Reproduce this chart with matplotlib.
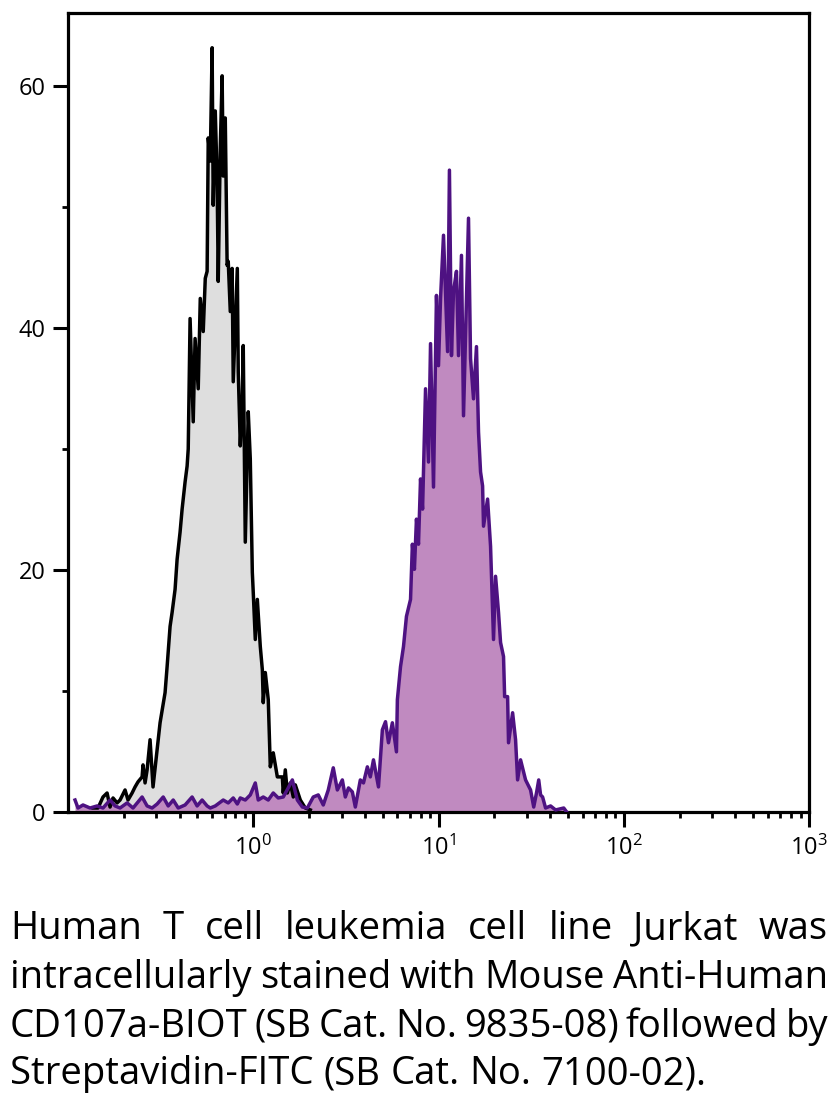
import numpy as np
import matplotlib
matplotlib.use("Agg")
import matplotlib.pyplot as plt
from matplotlib.ticker import FixedLocator, FixedFormatter, NullFormatter

plt.rcParams['font.family'] = ['Open Sans', 'DejaVu Sans']
plt.rcParams['mathtext.fontset'] = 'custom'
plt.rcParams['mathtext.rm'] = 'Open Sans'
plt.rcParams['mathtext.it'] = 'Open Sans'

# isotype / unstained control (grey), log10 of fluorescence intensity and counts
black_log = [-0.865, -0.838, -0.811, -0.789, -0.773, -0.757, -0.735, -0.719, -0.692, -0.676,
             -0.654, -0.638, -0.622, -0.600, -0.595, -0.584, -0.573, -0.557, -0.541, -0.519,
             -0.503, -0.476, -0.465, -0.449, -0.438, -0.422, -0.411, -0.395, -0.384, -0.368,
             -0.357, -0.351, -0.341, -0.324, -0.314, -0.297, -0.286, -0.270, -0.259, -0.249,
             -0.243, -0.232, -0.222, -0.216, -0.205, -0.195, -0.189, -0.178, -0.168, -0.162,
             -0.151, -0.141, -0.135, -0.124, -0.114, -0.108, -0.086, -0.081, -0.070, -0.059,
             -0.054, -0.043, -0.027, -0.016, -0.005, 0.000, 0.011, 0.022, 0.038, 0.049,
             0.054, 0.065, 0.081, 0.092, 0.108, 0.130, 0.157, 0.162, 0.173, 0.184,
             0.200, 0.216, 0.227, 0.254, 0.281, 0.308]
black_cnt = [0.33, 0.33, 1.24, 1.57, 0.41, 1.16, 0.75, 0.99, 1.82, 0.99,
             1.57, 2.07, 2.49, 2.90, 3.89, 2.40, 3.48, 5.97, 2.07, 5.14,
             7.37, 9.86, 12.01, 15.33, 16.49, 18.39, 20.88, 23.12, 25.02, 27.26,
             28.58, 29.99, 40.76, 32.23, 39.11, 34.96, 42.42, 39.69, 44.08, 44.66,
             55.68, 53.77, 63.13, 50.12, 57.91, 52.20, 43.83, 54.85, 60.81, 52.53,
             57.33, 45.16, 45.48, 41.34, 44.90, 35.54, 44.90, 36.37, 30.24, 34.13,
             38.53, 22.29, 33.06, 29.16, 19.80, 18.14, 14.25, 17.56, 13.67, 11.76,
             9.03, 11.52, 9.28, 3.73, 4.89, 2.90, 2.90, 1.57, 3.48, 1.57,
             2.40, 1.24, 2.24, 0.99, 0.33, 0.17]

# CD107a stained (purple)
purple_log = [-0.962, -0.946, -0.919, -0.881, -0.843, -0.811, -0.773, -0.746, -0.719, -0.681,
              -0.649, -0.600, -0.573, -0.546, -0.519, -0.486, -0.459, -0.432, -0.405, -0.368,
              -0.330, -0.303, -0.276, -0.249, -0.232, -0.205, -0.162, -0.135, -0.108, -0.086,
              -0.070, -0.043, -0.016, 0.011, 0.027, 0.054, 0.081, 0.108, 0.135, 0.162,
              0.189, 0.211, 0.238, 0.265, 0.292, 0.324, 0.351, 0.378, 0.405, 0.432,
              0.454, 0.481, 0.497, 0.514, 0.535, 0.551, 0.578, 0.595, 0.616, 0.632,
              0.649, 0.676, 0.697, 0.714, 0.730, 0.751, 0.773, 0.778, 0.795, 0.811,
              0.827, 0.849, 0.859, 0.870, 0.881, 0.892, 0.903, 0.914, 0.930, 0.946,
              0.957, 0.973, 0.989, 1.000, 1.011, 1.027, 1.049, 1.059, 1.070, 1.081,
              1.097, 1.108, 1.124, 1.135, 1.146, 1.162, 1.173, 1.189, 1.205, 1.216,
              1.227, 1.238, 1.243, 1.265, 1.281, 1.297, 1.308, 1.324, 1.335, 1.351,
              1.357, 1.373, 1.378, 1.400, 1.416, 1.427, 1.443, 1.470, 1.497, 1.514,
              1.530, 1.541, 1.551, 1.562, 1.578, 1.605, 1.632, 1.676, 1.692]
purple_cnt = [0.99, 0.33, 0.58, 0.33, 0.50, 0.33, 0.99, 0.50, 0.33, 0.75,
              0.33, 1.24, 0.50, 0.33, 0.66, 1.24, 0.50, 0.99, 0.33, 0.58,
              1.24, 0.50, 0.99, 0.50, 0.33, 0.50, 0.99, 0.75, 1.16, 0.66,
              1.16, 0.99, 1.41, 2.40, 0.99, 1.24, 0.99, 1.57, 1.16, 1.24,
              1.99, 2.65, 0.99, 0.41, 0.33, 1.24, 1.41, 0.58, 1.82, 3.65,
              1.82, 2.65, 1.24, 1.99, 1.66, 0.41, 2.65, 2.40, 3.73, 2.90,
              4.31, 2.07, 6.79, 7.46, 5.72, 7.37, 4.97, 9.28, 12.01, 13.67,
              16.16, 17.56, 22.12, 20.05, 24.19, 22.12, 27.51, 25.02, 34.96, 28.91,
              38.69, 26.84, 42.67, 36.87, 42.42, 47.64, 38.03, 53.02, 37.70, 43.00,
              44.66, 37.70, 45.98, 32.73, 39.35, 49.05, 37.45, 34.13, 38.44, 31.40,
              28.09, 26.93, 23.61, 25.85, 21.95, 14.25, 19.47, 16.49, 14.00, 12.84,
              9.53, 9.53, 5.72, 8.20, 5.97, 2.65, 4.31, 2.65, 1.82, 0.41,
              1.66, 2.65, 1.41, 1.24, 0.33, 0.50, 0.17, 0.33, 0.00]

y_ticks = [0, 20, 40, 60]
y_minor = [10, 30, 50]
x_ticks = [1, 10, 100, 1000]
x_ticklabels = [r'$\mathregular{10^{0}}$', r'$\mathregular{10^{1}}$',
                r'$\mathregular{10^{2}}$', r'$\mathregular{10^{3}}$']

caption_lines = ["Human T cell leukemia cell line Jurkat was",
                 "intracellularly stained with Mouse Anti-Human",
                 "CD107a-BIOT (SB Cat. No. 9835-08) followed by",
                 "Streptavidin-FITC (SB Cat. No. 7100-02)."]

W, H = 840, 1099
fig = plt.figure(figsize=(W / 100, H / 100), dpi=100)
ax = fig.add_axes([68 / W, 1 - 812 / H, (809 - 68) / W, (812 - 13) / H])

bx = 10 ** np.array(black_log)
px = 10 ** np.array(purple_log)

ax.fill_between(bx, black_cnt, 0, color='#dedede', lw=0, zorder=1)
ax.fill_between(px, purple_cnt, 0, color='#c08ac0', lw=0, zorder=2)
ax.plot(bx, black_cnt, color='black', lw=2.5, zorder=3)
ax.plot(px, purple_cnt, color='#4e1282', lw=2.5, zorder=4)

ax.set_xscale('log')
ax.set_xlim(0.1, 1000)
ax.set_ylim(0, 66)

ax.xaxis.set_major_locator(FixedLocator(x_ticks))
ax.xaxis.set_major_formatter(FixedFormatter(x_ticklabels))
minors = [m * 10.0 ** e for e in range(-1, 3) for m in range(2, 10)]
ax.xaxis.set_minor_locator(FixedLocator(minors))
ax.xaxis.set_minor_formatter(NullFormatter())
ax.yaxis.set_major_locator(FixedLocator(y_ticks))
ax.yaxis.set_minor_locator(FixedLocator(y_minor))

for s in ax.spines.values():
    s.set_linewidth(2.3)
ax.tick_params(which='major', length=11, width=2.2, labelsize=17, pad=5, direction='out')
ax.tick_params(which='minor', length=4.5, width=2.0, direction='out')
ax.tick_params(axis='x', which='major', pad=6)

# caption, justified like the source
renderer = fig.canvas.get_renderer()
probe = fig.text(0, 0, caption_lines[-1], fontsize=20)
fs = 20 * 695 / probe.get_window_extent(renderer).width
probe.remove()
space = fig.text(0, 0, "a a", fontsize=fs)
sp_w = space.get_window_extent(renderer).width
one = fig.text(0, 0, "aa", fontsize=fs)
sp_w -= one.get_window_extent(renderer).width
space.remove()
one.remove()

left, right = 10, 828
baselines = [939, 988, 1037, 1084]
for i, line in enumerate(caption_lines):
    words = line.split()
    texts = [fig.text(0, 0, w, fontsize=fs, va='baseline') for w in words]
    widths = [t.get_window_extent(renderer).width for t in texts]
    if i == len(caption_lines) - 1:
        gap = sp_w
    else:
        gap = (right - left - sum(widths)) / (len(words) - 1)
    x = left
    for t, w in zip(texts, widths):
        t.set_position((x / W, 1 - baselines[i] / H))
        x += w + gap

fig.savefig('out.png', dpi=100)
